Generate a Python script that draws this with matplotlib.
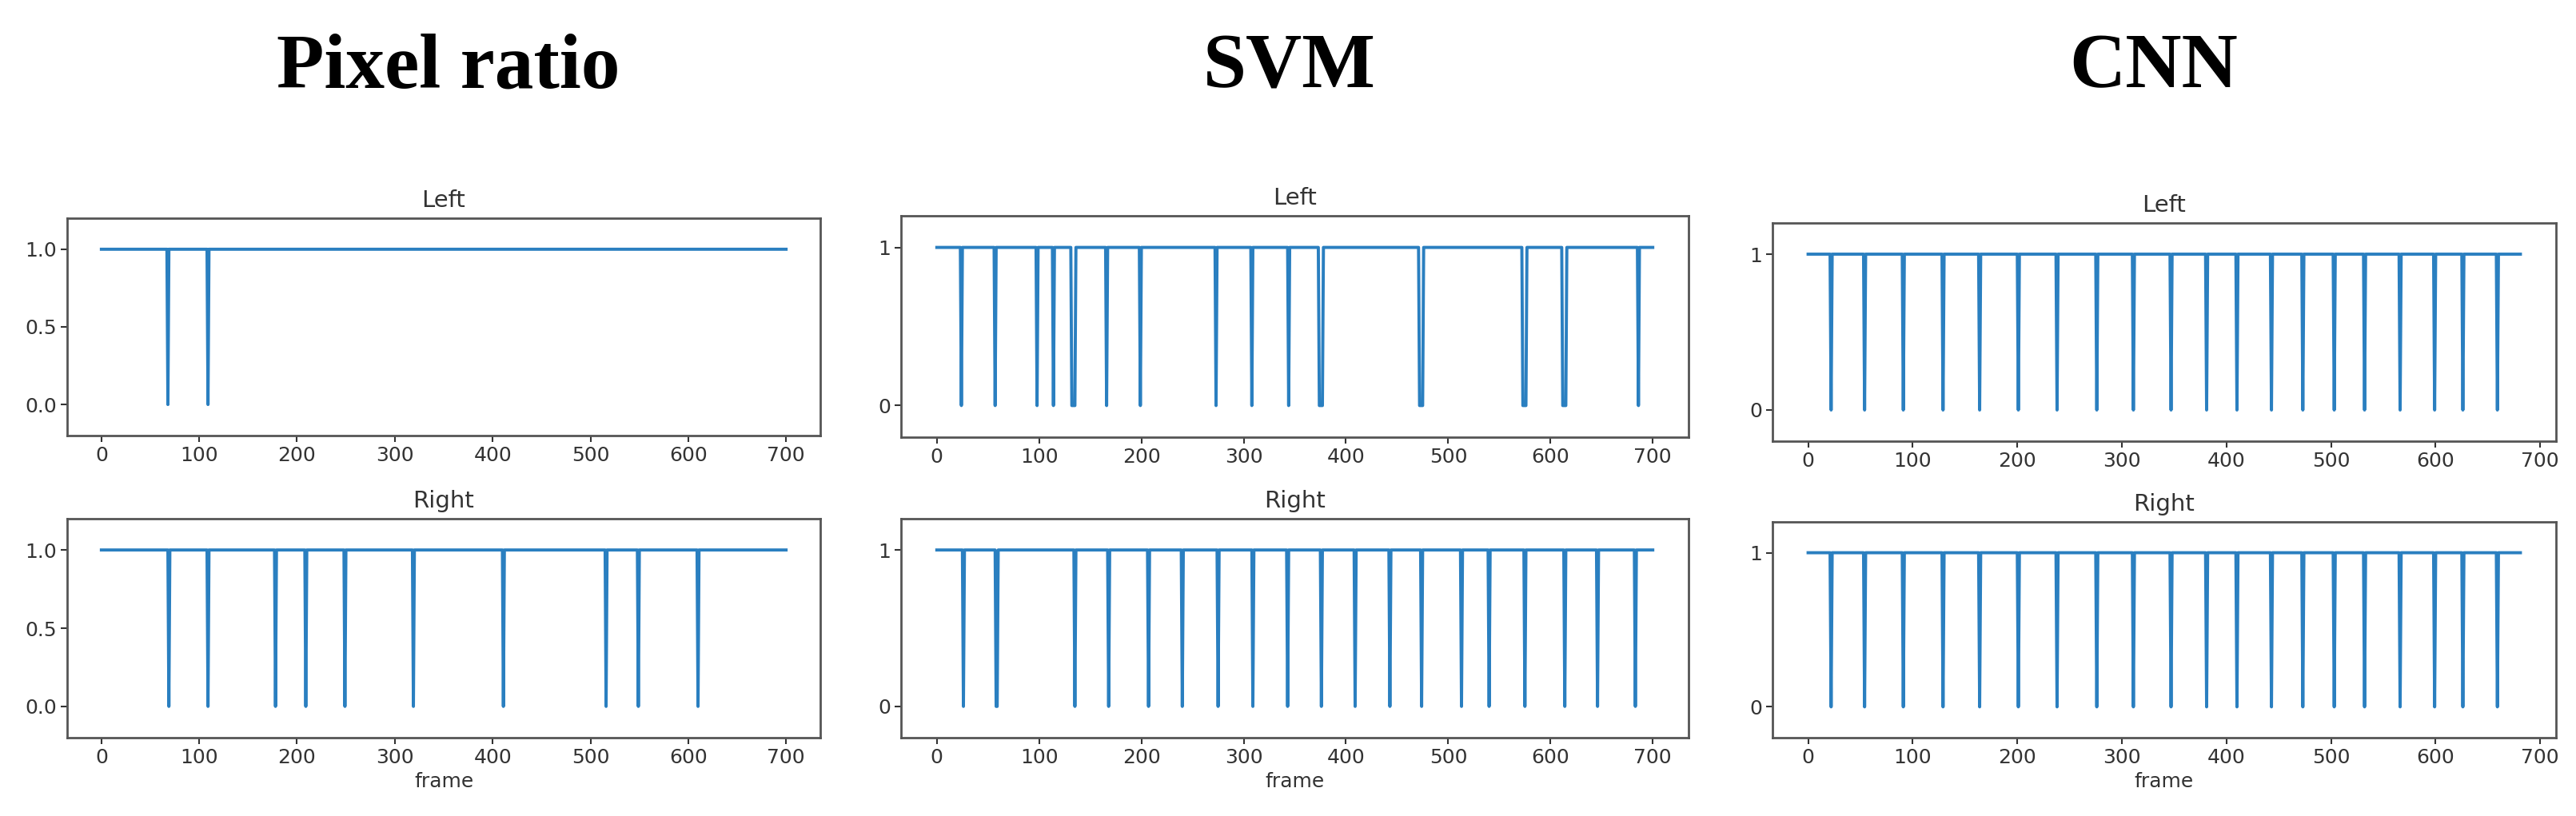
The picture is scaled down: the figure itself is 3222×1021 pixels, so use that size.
import numpy as np
import matplotlib
matplotlib.use("Agg")
import matplotlib.pyplot as plt

# frames where the detector output drops to 0 (value is 1 everywhere else)
methods = ["Pixel ratio", "SVM", "CNN"]
n_frames = [701, 701, 682]

pixel_left_zero = [68, 109]
pixel_right_zero = [69, 109, 178, 209, 249, 319, 411, 516, 549, 610]

svm_left_zero = [24, 57, 98, 114, 132, 133, 134, 135, 166, 199, 273, 308, 344,
                 374, 375, 376, 377, 472, 473, 474, 475, 573, 574, 575, 576,
                 612, 613, 614, 615, 686]
svm_right_zero = [26, 58, 59, 135, 168, 207, 240, 275, 309, 343, 376, 409, 443,
                  474, 513, 540, 575, 614, 646, 683]

cnn_left_zero = [22, 54, 91, 129, 164, 201, 238, 276, 311, 347, 381, 410, 443,
                 473, 503, 532, 566, 599, 626, 659]
cnn_right_zero = [22, 54, 91, 129, 164, 201, 238, 276, 311, 347, 381, 410, 443,
                  473, 503, 532, 566, 599, 626, 659]

zeros = [[pixel_left_zero, pixel_right_zero],
         [svm_left_zero, svm_right_zero],
         [cnn_left_zero, cnn_right_zero]]
yticks = [[0, 0.5, 1.0], [0, 1], [0, 1]]
yticklabels = [["0.0", "0.5", "1.0"], ["0", "1"], ["0", "1"]]
rows = ["Left", "Right"]

W, H = 3222, 1021
fig = plt.figure(figsize=(W / 100, H / 100), dpi=100)

# axes boxes in pixels: (x0, x1) per column, (y_top, y_bottom) per row/column
col_x = [(84, 1026), (1127, 2112), (2217, 3197)]
row_y = [[(273, 545), (649, 923)],
         [(270, 547), (649, 923)],
         [(279, 552), (653, 923)]]
title_x = [561, 1613, 2694]

line_color = "#2a7fc0"
spine_color = "#555555"

for c in range(3):
    x0, x1 = col_x[c]
    fig.text(title_x[c] / W, 1 - 86 / H, methods[c], ha="center", va="center",
             fontsize=70, fontweight="bold", family="Liberation Serif")
    for r in range(2):
        yt, yb = row_y[c][r]
        ax = fig.add_axes([x0 / W, 1 - yb / H, (x1 - x0) / W, (yb - yt) / H])
        y = np.ones(n_frames[c])
        y[zeros[c][r]] = 0
        ax.plot(np.arange(n_frames[c]), y, color=line_color, lw=2.8)
        ax.set_ylim(-0.2, 1.2)
        ax.set_yticks(yticks[c])
        ax.set_yticklabels(yticklabels[c])
        ax.set_xticks(range(0, 701, 100))
        ax.set_title(rows[r], fontsize=21, pad=10, color="#333333")
        ax.tick_params(labelsize=18, length=6, width=1.5,
                       colors="#333333")
        for s in ax.spines.values():
            s.set_color(spine_color)
            s.set_linewidth(2)
        if r == 1:
            ax.set_xlabel("frame", fontsize=18, color="#333333", labelpad=4)

fig.savefig("out.png", dpi=100)
